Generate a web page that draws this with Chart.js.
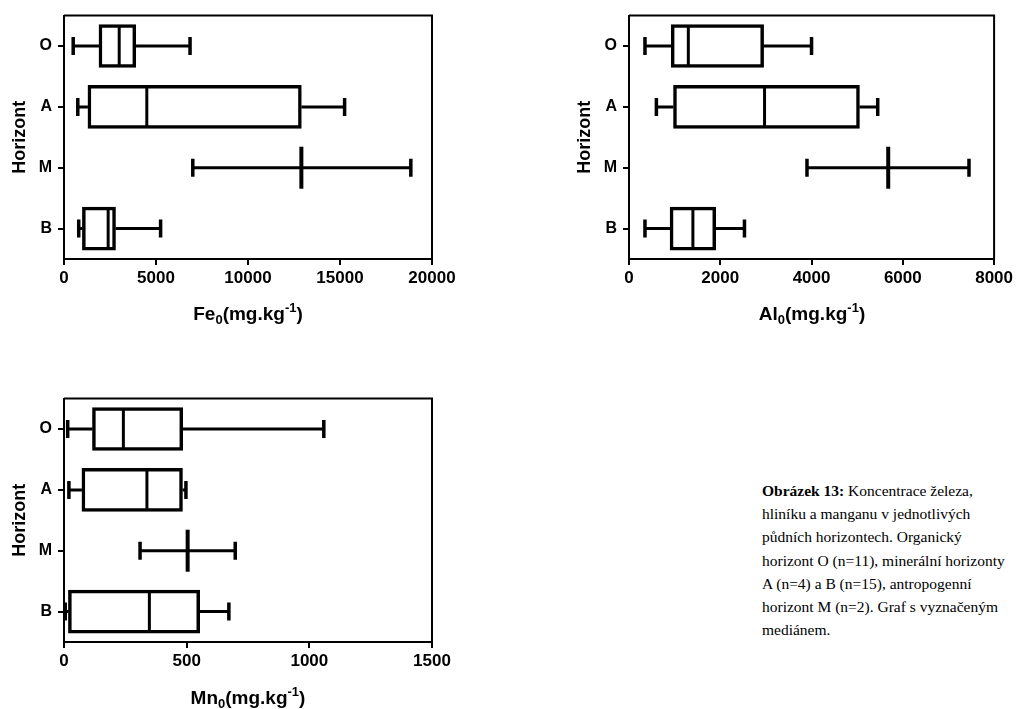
<!DOCTYPE html>
<html>
<head>
<meta charset="utf-8">
<script src="https://cdn.jsdelivr.net/npm/chart.js@4.4.1/dist/chart.umd.min.js"></script>
<style>
  html, body { margin:0; padding:0; background:#fff; }
  body { width:1016px; height:709px; position:relative; overflow:hidden; }
  .wrap { position:absolute; }
  .xtitle { position:absolute; font-family:"Liberation Sans", Arial, sans-serif; font-weight:bold; font-size:19px; color:#000; transform:translate(-50%,-50%); white-space:nowrap; }
  .xtitle sub { font-size:13px; vertical-align:-4px; }
  .xtitle sup { font-size:13px; vertical-align:8px; }
  .caption { position:absolute; left:762px; top:479px; font-family:"Liberation Serif", "Times New Roman", serif; font-size:15.5px; line-height:23.2px; color:#000; white-space:nowrap; }
</style>
</head>
<body>
<div class="wrap" style="left:0;top:0;width:460px;height:330px;"><canvas id="c1"></canvas></div>
<div class="wrap" style="left:565px;top:0;width:451px;height:330px;"><canvas id="c2"></canvas></div>
<div class="wrap" style="left:0;top:383px;width:460px;height:330px;"><canvas id="c3"></canvas></div>

<div class="xtitle" style="left:248px;top:313px;">Fe<sub>0</sub>(mg.kg<sup>-1</sup>)</div>
<div class="xtitle" style="left:812px;top:313px;">Al<sub>0</sub>(mg.kg<sup>-1</sup>)</div>
<div class="xtitle" style="left:248px;top:697px;">Mn<sub>0</sub>(mg.kg<sup>-1</sup>)</div>

<div class="caption"><b>Obrázek 13:</b> Koncentrace železa,<br>hliníku a manganu v jednotlivých<br>půdních horizontech. Organický<br>horizont O (n=11), minerální horizonty<br>A (n=4) a B (n=15), antropogenní<br>horizont M (n=2). Graf s vyznačeným<br>mediánem.</div>

<script>
// ---- data ----
const categories = ['O', 'A', 'M', 'B'];
const yTitle = 'Horizont';

// Fe
const feMin = [500, 750, 7000, 800];
const feQ1  = [1900, 1300, null, 1000];
const feMed = [3000, 4500, 12900, 2400];
const feQ3  = [3900, 12900, null, 2800];
const feMax = [6850, 15250, 18850, 5250];
const feTicks = [0, 5000, 10000, 15000, 20000];

// Al
const alMin = [350, 600, 3900, 350];
const alQ1  = [925, 975, null, 900];
const alMed = [1300, 2970, 5680, 1400];
const alQ3  = [2950, 5050, null, 1900];
const alMax = [4000, 5450, 7450, 2530];
const alTicks = [0, 2000, 4000, 6000, 8000];

// Mn
const mnMin = [15, 20, 310, 5];
const mnQ1  = [116, 73, null, 18];
const mnMed = [242, 338, 504, 348];
const mnQ3  = [484, 483, null, 553];
const mnMax = [1059, 497, 698, 672];
const mnTicks = [0, 500, 1000, 1500];

const FONT = '"Liberation Sans", Arial, sans-serif';

const boxPlugin = {
  id: 'boxExtras',
  afterDatasetsDraw(chart) {
    const o = chart.config.options.plugins.boxExtras;
    const ctx = chart.ctx;
    const x = chart.scales.x, y = chart.scales.y;
    const half = 21, cap = 9;
    ctx.save();
    ctx.strokeStyle = '#000';
    ctx.lineCap = 'butt';
    for (let i = 0; i < o.min.length; i++) {
      const yc = y.getPixelForValue(i);
      const xmin = x.getPixelForValue(o.min[i]);
      const xmax = x.getPixelForValue(o.max[i]);
      const xmed = x.getPixelForValue(o.med[i]);
      ctx.lineWidth = 3;
      ctx.beginPath();
      if (o.q1[i] !== null) {
        const xq1 = x.getPixelForValue(o.q1[i]);
        const xq3 = x.getPixelForValue(o.q3[i]);
        ctx.moveTo(xmin, yc); ctx.lineTo(xq1, yc);
        ctx.moveTo(xq3, yc); ctx.lineTo(xmax, yc);
      } else {
        ctx.moveTo(xmin, yc); ctx.lineTo(xmax, yc);
      }
      ctx.stroke();
      // caps
      ctx.lineWidth = 3.5;
      ctx.beginPath();
      ctx.moveTo(xmin, yc - cap); ctx.lineTo(xmin, yc + cap);
      ctx.moveTo(xmax, yc - cap); ctx.lineTo(xmax, yc + cap);
      ctx.stroke();
      // median
      ctx.lineWidth = o.q1[i] !== null ? 3 : 4;
      ctx.beginPath();
      ctx.moveTo(xmed, yc - half); ctx.lineTo(xmed, yc + half);
      ctx.stroke();
    }
    // frame top / right
    const a = chart.chartArea;
    ctx.lineWidth = 2;
    ctx.beginPath();
    ctx.moveTo(a.left, a.top); ctx.lineTo(a.right, a.top); ctx.lineTo(a.right, a.bottom);
    ctx.stroke();
    ctx.restore();
  }
};

function makeChart(id, mins, q1s, meds, q3s, maxs, ticks, rightPad) {
  const boxes = q1s.map((q, i) => (q === null ? null : [q, q3s[i]]));
  const tmax = ticks[ticks.length - 1];
  const step = ticks[1] - ticks[0];
  return new Chart(document.getElementById(id), {
    type: 'bar',
    data: {
      labels: categories,
      datasets: [{
        data: boxes,
        backgroundColor: '#fff',
        borderColor: '#000',
        borderWidth: 3.5,
        borderSkipped: false,
        barThickness: 43
      }]
    },
    plugins: [boxPlugin],
    options: {
      indexAxis: 'y',
      responsive: true,
      maintainAspectRatio: false,
      animation: false,
      layout: { padding: { top: 15, right: rightPad, left: 0, bottom: 0 } },
      plugins: {
        legend: { display: false },
        tooltip: { enabled: false },
        boxExtras: { min: mins, q1: q1s, med: meds, q3: q3s, max: maxs }
      },
      scales: {
        x: {
          type: 'linear',
          min: 0, max: tmax,
          afterFit: (s) => { s.height = 71; },
          afterBuildTicks: (s) => { s.ticks = ticks.map(v => ({ value: v })); },
          ticks: { stepSize: step, color: '#000', font: { family: FONT, weight: 'bold', size: 17 }, padding: 3, maxRotation: 0,
                   callback: (v) => String(v) },
          grid: { drawOnChartArea: false, drawTicks: true, tickLength: 6, color: '#000', lineWidth: 2 },
          border: { display: true, color: '#000', width: 2 }
        },
        y: {
          type: 'category',
          offset: true,
          afterFit: (s) => { s.width = 64; },
          title: { display: true, text: yTitle, color: '#000', font: { family: FONT, weight: 'bold', size: 18 }, padding: { top: 9, bottom: 0 } },
          ticks: { color: '#000', font: { family: FONT, weight: 'bold', size: 16 }, padding: 6 },
          grid: { offset: false, drawOnChartArea: false, drawTicks: true, tickLength: 6, color: '#000', lineWidth: 2 },
          border: { display: true, color: '#000', width: 2 }
        }
      }
    }
  });
}

makeChart('c1', feMin, feQ1, feMed, feQ3, feMax, feTicks, 28);
makeChart('c2', alMin, alQ1, alMed, alQ3, alMax, alTicks, 20);
makeChart('c3', mnMin, mnQ1, mnMed, mnQ3, mnMax, mnTicks, 28);
</script>
</body>
</html>
